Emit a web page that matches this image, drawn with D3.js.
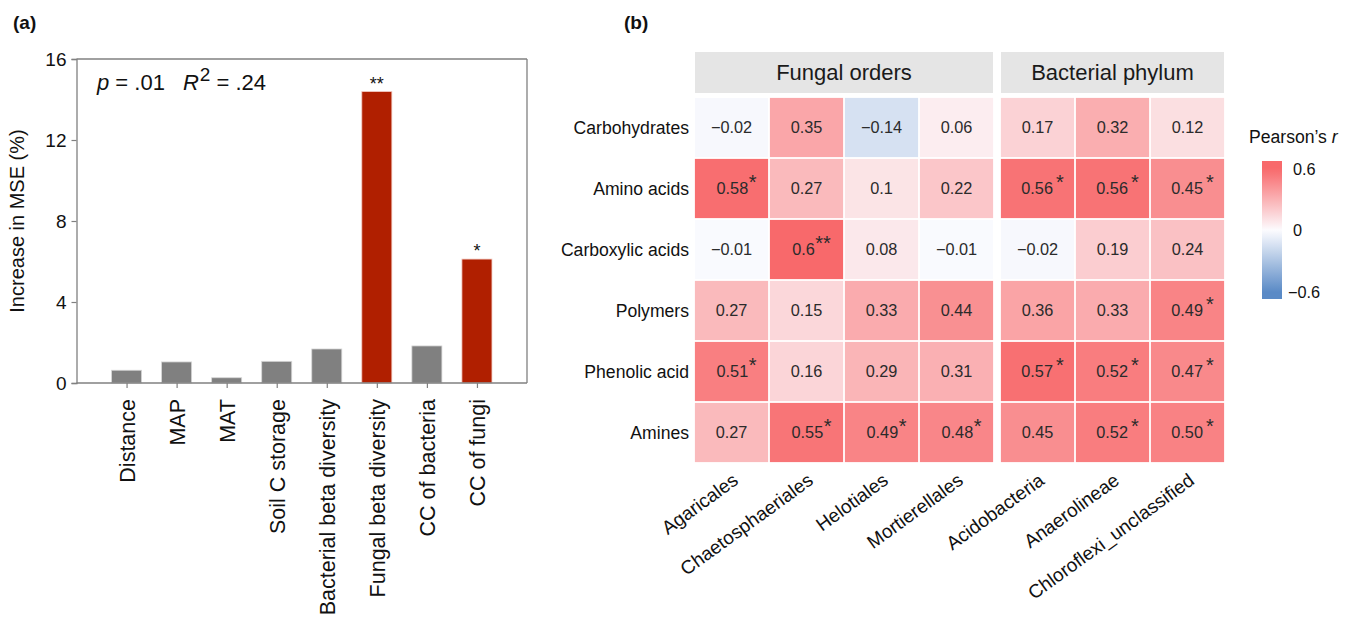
<!DOCTYPE html>
<html>
<head>
<meta charset="utf-8">
<script src="https://cdn.jsdelivr.net/npm/d3@7/dist/d3.min.js"></script>
<style>
  html, body { margin: 0; padding: 0; background: #fff; }
  svg { display: block; font-family: "Liberation Sans", Arial, Helvetica, sans-serif; }
  text { white-space: pre; }
</style>
</head>
<body>
<svg id="fig" width="1352" height="627"></svg>
<script>
// ---- Panel (a): random forest importance ----
const barCategories = ["Distance", "MAP", "MAT", "Soil C storage", "Bacterial beta diversity",
                       "Fungal beta diversity", "CC of bacteria", "CC of fungi"];
const barValues = [0.63, 1.04, 0.26, 1.07, 1.68, 14.39, 1.83, 6.12];
const barSignificance = ["", "", "", "", "", "**", "", "*"];
const yTicks = [0, 4, 8, 12, 16];

// ---- Panel (b): correlation heatmap ----
const substrateGroups = ["Carbohydrates", "Amino acids", "Carboxylic acids", "Polymers", "Phenolic acid", "Amines"];
const fungalOrders = ["Agaricales", "Chaetosphaeriales", "Helotiales", "Mortierellales"];
const bacterialPhyla = ["Acidobacteria", "Anaerolineae", "Chloroflexi_unclassified"];
// correlation labels per substrate row, fungal orders then bacterial phyla
const corrLabels = [
  ["\u22120.02", "0.35", "\u22120.14", "0.06", "0.17", "0.32", "0.12"],
  ["0.58", "0.27", "0.1", "0.22", "0.56", "0.56", "0.45"],
  ["\u22120.01", "0.6", "0.08", "\u22120.01", "\u22120.02", "0.19", "0.24"],
  ["0.27", "0.15", "0.33", "0.44", "0.36", "0.33", "0.49"],
  ["0.51", "0.16", "0.29", "0.31", "0.57", "0.52", "0.47"],
  ["0.27", "0.55", "0.49", "0.48", "0.45", "0.52", "0.50"]
];
const corrStars = [
  ["", "", "", "", "", "", ""],
  ["*", "", "", "", "*", "*", "*"],
  ["", "**", "", "", "", "", ""],
  ["", "", "", "", "", "", "*"],
  ["*", "", "", "", "*", "*", "*"],
  ["", "*", "*", "*", "", "*", "*"]
];
const legendTicks = [-0.6, 0, 0.6];
const legendTickLabels = ["\u22120.6", "0", "0.6"];

const svg = d3.select("#fig");

// ================= Panel (a) =================
const aLeft = 76.5, aRight = 527, aTop = 59, aBottom = 383;
const x = d3.scalePoint().domain(barCategories).range([aLeft, aRight]).padding(1);
const barW = x.step() * 0.6;
const y = d3.scaleLinear().domain([0, 16]).range([aBottom, aTop]);
const axisGray = "#808080";

const gA = svg.append("g");

gA.append("text").attr("x", 13).attr("y", 29)
  .attr("font-size", 19).attr("font-weight", "bold").attr("fill", "#111").text("(a)");

// bars
gA.selectAll("rect.bar").data(barValues).join("rect")
  .attr("class", "bar")
  .attr("x", (d, i) => x(barCategories[i]) - barW / 2)
  .attr("width", barW)
  .attr("y", d => y(d))
  .attr("height", d => y(0) - y(d))
  .attr("fill", (d, i) => barSignificance[i] ? "#b01f00" : "#808080")
  .attr("stroke", (d, i) => barSignificance[i] ? "#f2c9c0" : "#d6d6d6")
  .attr("stroke-width", 0.8);

// significance stars
gA.selectAll("text.sig").data(barValues).join("text")
  .attr("class", "sig")
  .attr("x", (d, i) => x(barCategories[i]))
  .attr("y", d => y(d) - 2)
  .attr("text-anchor", "middle")
  .attr("font-size", 18).attr("fill", "#111")
  .text((d, i) => barSignificance[i]);

// frame (top and right)
gA.append("line").attr("x1", aLeft).attr("x2", aRight).attr("y1", aTop).attr("y2", aTop)
  .attr("stroke", axisGray).attr("stroke-width", 1.3);
gA.append("line").attr("x1", aRight).attr("x2", aRight).attr("y1", aTop).attr("y2", aBottom)
  .attr("stroke", axisGray).attr("stroke-width", 1.3);

// y axis
const yAxis = gA.append("g").attr("transform", `translate(${aLeft},0)`)
  .call(d3.axisLeft(y).tickValues(yTicks).tickSize(5).tickPadding(5));
yAxis.select(".domain").attr("stroke", axisGray).attr("stroke-width", 1.3);
yAxis.selectAll(".tick line").attr("stroke", axisGray).attr("stroke-width", 1.2);
yAxis.selectAll(".tick text").attr("font-size", 19).attr("fill", "#111")
  .attr("font-family", "Liberation Sans, Arial, sans-serif");

// x axis
const xAxis = gA.append("g").attr("transform", `translate(0,${aBottom})`)
  .call(d3.axisBottom(x).tickSize(5).tickPadding(10));
xAxis.select(".domain").attr("stroke", axisGray).attr("stroke-width", 1.3)
  .attr("d", `M${aLeft},0H${aRight}`);
xAxis.selectAll(".tick line").attr("stroke", axisGray).attr("stroke-width", 1.2);
xAxis.selectAll(".tick text")
  .attr("font-size", 21.5).attr("fill", "#111")
  .attr("font-family", "Liberation Sans, Arial, sans-serif")
  .attr("text-anchor", "end")
  .attr("transform", "rotate(-90)")
  .attr("x", -16).attr("y", 0).attr("dy", "0.35em");

// y title
gA.append("text")
  .attr("transform", `translate(24,${(aTop + aBottom) / 2 + 0}) rotate(-90)`)
  .attr("text-anchor", "middle").attr("font-size", 20).attr("fill", "#111")
  .text("Increase in MSE (%)");

// model statistics
const stat = gA.append("text").attr("x", 97).attr("y", 90).attr("font-size", 22).attr("fill", "#111");
stat.append("tspan").attr("font-style", "italic").text("p");
stat.append("tspan").text(" = .01");
stat.append("tspan").attr("dx", 18).attr("font-style", "italic").text("R");
stat.append("tspan").attr("font-size", 19).attr("dy", -9).attr("dx", 1).text("2");
stat.append("tspan").attr("dy", 9).text(" = .24");

// ================= Panel (b) =================
svg.append("text").attr("x", 624).attr("y", 29)
  .attr("font-size", 19).attr("font-weight", "bold").attr("fill", "#111").text("(b)");

const color = d3.scaleLinear().domain([-0.6, 0, 0.6])
  .range(["#5a8ac6", "#fcfcff", "#f8696b"]).clamp(true);

const rowY = d3.scaleBand().domain(substrateGroups).range([97, 463]);
const panels = [
  { title: "Fungal orders", cols: fungalOrders, range: [694, 994], offset: 0 },
  { title: "Bacterial phylum", cols: bacterialPhyla, range: [1000, 1225], offset: fungalOrders.length }
];
const gB = svg.append("g");

// row labels
gB.selectAll("text.row").data(substrateGroups).join("text")
  .attr("class", "row")
  .attr("x", 689).attr("y", d => rowY(d) + rowY.bandwidth() / 2)
  .attr("dy", "0.35em").attr("text-anchor", "end")
  .attr("font-size", 17.6).attr("fill", "#111").text(d => d);

panels.forEach(p => {
  const cx = d3.scaleBand().domain(p.cols).range(p.range);
  const g = gB.append("g");

  // facet strip
  g.append("rect").attr("x", p.range[0] + 1).attr("y", 52)
    .attr("width", p.range[1] - p.range[0] - 2).attr("height", 41)
    .attr("fill", "#e5e5e5");
  g.append("text").attr("x", (p.range[0] + p.range[1]) / 2).attr("y", 72.5)
    .attr("dy", "0.35em").attr("text-anchor", "middle")
    .attr("font-size", 22).attr("fill", "#1a1a1a").text(p.title);

  const cells = [];
  substrateGroups.forEach((r, ri) => {
    p.cols.forEach((c, ci) => {
      const label = corrLabels[ri][p.offset + ci];
      cells.push({ row: r, col: c, label, value: +label.replace("\u2212", "-"),
                   star: corrStars[ri][p.offset + ci] });
    });
  });

  g.selectAll("rect.cell").data(cells).join("rect")
    .attr("class", "cell")
    .attr("x", d => cx(d.col) + 0.9)
    .attr("y", d => rowY(d.row) + 0.9)
    .attr("width", cx.bandwidth() - 1.8)
    .attr("height", rowY.bandwidth() - 1.8)
    .attr("fill", d => color(d.value));

  const t = g.selectAll("text.val").data(cells).join("text")
    .attr("class", "val")
    .attr("x", d => cx(d.col) + cx.bandwidth() / 2 + (d.star ? 5 : 0))
    .attr("y", d => rowY(d.row) + rowY.bandwidth() / 2)
    .attr("dy", "0.35em").attr("text-anchor", "middle")
    .attr("font-size", 16.3).attr("fill", "#2b2b2b");
  t.append("tspan").text(d => d.label);
  t.append("tspan").attr("dy", "-0.25em").attr("dx", p.offset ? 3 : 0.5)
    .attr("font-size", 20).text(d => d.star);

  // column labels
  g.selectAll("text.col").data(p.cols).join("text")
    .attr("class", "col")
    .attr("text-anchor", "end")
    .attr("font-size", 19).attr("fill", "#111")
    .attr("transform", d => `translate(${cx(d) + cx.bandwidth() / 2 + 8},483) rotate(-36)`)
    .text(d => d);
});

// colour legend
const legTop = 161, legBottom = 299, legX = 1262, legW = 20;
const legY = d3.scaleLinear().domain([-0.6, 0.6]).range([292, 169]);
const grad = svg.append("defs").append("linearGradient").attr("id", "rgrad")
  .attr("x1", 0).attr("x2", 0).attr("y1", 0).attr("y2", 1);
d3.range(0, 1.0001, 0.05).forEach(f => {
  const v = legY.invert(legTop + f * (legBottom - legTop));
  grad.append("stop").attr("offset", f).attr("stop-color", color(v));
});
svg.append("rect").attr("x", legX).attr("y", legTop).attr("width", legW)
  .attr("height", legBottom - legTop).attr("fill", "url(#rgrad)");

const legTitle = svg.append("text").attr("x", 1249).attr("y", 143)
  .attr("font-size", 17.6).attr("fill", "#111");
legTitle.append("tspan").text("Pearson\u2019s ");
legTitle.append("tspan").attr("font-style", "italic").text("r");

svg.selectAll("text.legtick").data(legendTicks).join("text")
  .attr("class", "legtick")
  .attr("x", (d, i) => d < 0 ? 1288 : 1293)
  .attr("y", d => legY(d)).attr("dy", "0.35em")
  .attr("font-size", 16.3).attr("fill", "#111")
  .text((d, i) => legendTickLabels[i]);
</script>
</body>
</html>
